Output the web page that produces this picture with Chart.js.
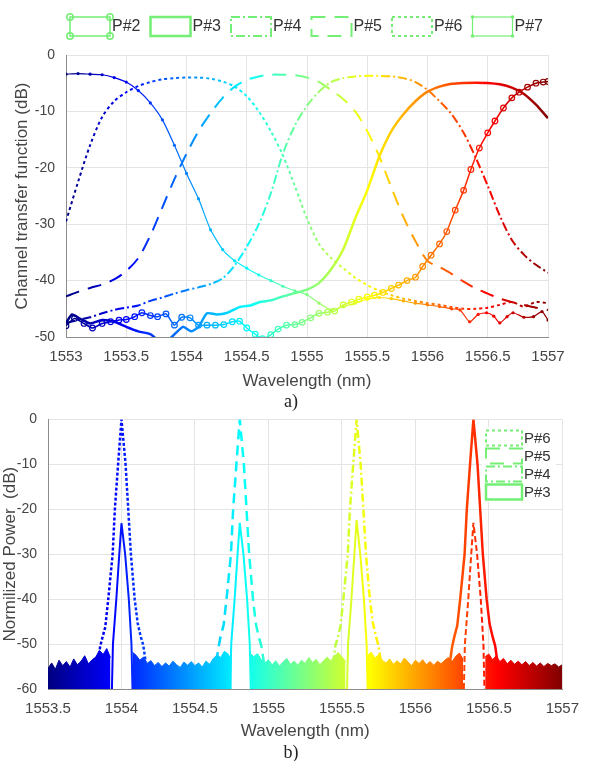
<!DOCTYPE html>
<html>
<head>
<meta charset="utf-8">
<script src="https://cdn.jsdelivr.net/npm/chart.js@4.4.0/dist/chart.umd.min.js"></script>
<style>
  body { margin: 0; background: #fff; }
  #wrap { position: relative; width: 590px; height: 761px; }
  canvas { position: absolute; left: 0; }
  .cap { position: absolute; left: 0; width: 582px; text-align: center; font: 18px "Liberation Serif", "Times New Roman", serif; color: #222; line-height: 20px; }
</style>
</head>
<body>
<div id="wrap">
  <canvas id="chartA" width="590" height="395" style="top:0"></canvas>
  <canvas id="chartB" width="590" height="361" style="top:400px"></canvas>
  <div class="cap" style="top:391px">a)</div>
  <div class="cap" style="top:742px">b)</div>
</div>
<script>
// ---- a) channel transfer functions ----
const topXTicks = [1553, 1553.5, 1554, 1554.5, 1555, 1555.5, 1556, 1556.5, 1557]
const topYTicks = [0, -10, -20, -30, -40, -50]
const topNames = ['P#2', 'P#3', 'P#4', 'P#5', 'P#6', 'P#7']

// regular 0.1 nm grid used by the smooth curves
const grid01 = [1553.0, 1553.1, 1553.2, 1553.3, 1553.4, 1553.5, 1553.6, 1553.7, 1553.8, 1553.9,
  1554.0, 1554.1, 1554.2, 1554.3, 1554.4, 1554.5, 1554.6, 1554.7, 1554.8, 1554.9,
  1555.0, 1555.1, 1555.2, 1555.3, 1555.4, 1555.5, 1555.6, 1555.7, 1555.8, 1555.9,
  1556.0, 1556.1, 1556.2, 1556.3, 1556.4, 1556.5, 1556.6, 1556.7, 1556.8, 1556.9, 1557.0]

// P#7 (thin, small dots)
const p7x = [1553.0, 1553.1, 1553.2, 1553.3, 1553.4, 1553.5, 1553.6, 1553.7, 1553.8, 1553.9,
  1554.0, 1554.1, 1554.2, 1554.3, 1554.4, 1554.5, 1554.6, 1554.7, 1554.8, 1554.9,
  1555.0, 1555.1, 1555.2, 1555.3, 1555.4, 1555.5, 1555.6, 1555.7, 1555.8, 1555.9,
  1556.0, 1556.1, 1556.2, 1556.27, 1556.35, 1556.42, 1556.49, 1556.55, 1556.6, 1556.66,
  1556.71, 1556.8, 1556.88, 1556.95, 1557.0]
const p7y = [-3.4, -3.3, -3.4, -3.5, -4.0, -4.8, -6.3, -8.5, -11.5, -16.0,
  -21.0, -25.5, -31.0, -34.5, -36.5, -37.8, -39.0, -40.0, -41.0, -41.8,
  -42.5, -44.0, -45.2, -44.6, -44.0, -43.3, -43.0, -43.2, -43.6, -44.0,
  -44.3, -44.6, -45.0, -45.2, -47.3, -46.0, -45.7, -46.3, -47.5, -46.4,
  -45.7, -46.5, -46.4, -45.5, -47.0]

// P#6 (dotted), peak near 1554
const p6y = [-29.5, -22.5, -16.0, -11.0, -8.2, -6.6, -5.5, -4.8, -4.3, -4.1,
  -4.0, -4.0, -4.2, -4.7, -5.6, -7.3, -10.0, -13.5, -17.8, -23.3,
  -29.0, -33.5, -36.0, -37.8, -39.5, -40.8, -41.8, -42.6, -43.2, -43.6,
  -44.0, -44.3, -44.7, -45.0, -45.0, -44.8, -44.3, -43.8, -44.6, -43.8, -44.0]

// P#5 (long dash), peak near 1554.8
const p5y = [-42.8, -42.0, -41.3, -40.7, -39.8, -38.3, -36.0, -32.0, -27.0, -22.0,
  -17.5, -13.5, -10.3, -7.6, -5.6, -4.4, -3.8, -3.5, -3.5, -3.6,
  -4.0, -4.8, -6.2, -7.8, -10.0, -13.5, -18.0, -23.5, -28.7, -33.0,
  -36.5, -37.6, -38.8, -40.2, -41.4, -42.3, -43.2, -43.8, -44.3, -44.8, -45.2]

// P#4 (dash-dot), peak near 1555.55
const p4y = [-47.5, -47.0, -46.5, -45.8, -45.2, -44.8, -44.4, -43.6, -43.0, -42.3,
  -41.7, -41.2, -40.6, -39.6, -37.3, -34.0, -30.0, -24.5, -17.5, -12.5,
  -9.0, -6.5, -4.8, -4.1, -3.8, -3.7, -3.7, -3.8, -4.1, -4.8,
  -6.2, -8.2, -10.5, -13.8, -18.2, -23.2, -28.5, -32.8, -35.4, -37.2, -38.6]

// P#3 (solid), peak near 1556.4
const p3x = [1553.0, 1553.05, 1553.12, 1553.2, 1553.3, 1553.4, 1553.5, 1553.6, 1553.7, 1553.77,
  1553.86, 1553.97, 1554.04, 1554.1, 1554.17, 1554.25, 1554.34, 1554.44, 1554.53, 1554.61,
  1554.7, 1554.8, 1554.9, 1555.0, 1555.1, 1555.2, 1555.3, 1555.4, 1555.5, 1555.6,
  1555.7, 1555.8, 1555.9, 1556.0, 1556.1, 1556.2, 1556.3, 1556.4, 1556.5, 1556.6,
  1556.7, 1556.8, 1556.9, 1557.0]
const p3y = [-47.5, -46.0, -46.8, -47.6, -47.0, -47.3, -48.2, -49.0, -49.5, -50.6,
  -50.3, -48.2, -49.0, -48.2, -45.8, -46.0, -45.7, -44.7, -44.4, -43.8,
  -43.5, -42.8, -42.2, -41.6, -40.4, -38.0, -34.5, -29.0, -24.0, -18.0,
  -13.5, -10.5, -8.2, -6.5, -5.6, -5.1, -4.95, -4.9, -4.95, -5.2,
  -5.8, -6.9, -8.8, -11.2]

// P#2 (circles), rising at the red end
const p2x = [1553.0, 1553.07, 1553.15, 1553.22, 1553.3, 1553.37, 1553.44, 1553.5, 1553.57, 1553.63,
  1553.7, 1553.76, 1553.83, 1553.9, 1553.96, 1554.03, 1554.1, 1554.17, 1554.24, 1554.31,
  1554.38, 1554.44, 1554.5, 1554.57, 1554.63, 1554.7, 1554.76, 1554.83, 1554.9, 1554.96,
  1555.03, 1555.1, 1555.17, 1555.23, 1555.3, 1555.37, 1555.43, 1555.5, 1555.56, 1555.63,
  1555.7, 1555.76, 1555.83, 1555.9, 1555.96, 1556.03, 1556.1, 1556.16, 1556.23, 1556.3,
  1556.36, 1556.43, 1556.5, 1556.56, 1556.63, 1556.7, 1556.76, 1556.83, 1556.9, 1556.96, 1557.0]
const p2y = [-48.0, -46.7, -47.6, -48.4, -47.6, -47.3, -47.0, -46.9, -46.4, -45.7,
  -46.2, -46.4, -45.9, -47.9, -46.5, -46.6, -47.9, -47.9, -47.9, -47.8,
  -47.3, -47.2, -48.4, -49.5, -50.3, -49.6, -48.6, -47.9, -47.8, -47.4,
  -46.6, -45.8, -45.6, -45.4, -44.3, -43.8, -43.3, -42.9, -42.6, -42.1,
  -41.4, -40.8, -40.0, -39.4, -37.5, -35.5, -33.5, -31.3, -27.5, -24.0,
  -20.3, -16.5, -13.8, -11.7, -9.4, -7.6, -6.6, -5.7, -5.0, -4.8, -4.7]

// ---- b) normalized spectra ----
const botXTicks = [1553.5, 1554, 1554.5, 1555, 1555.5, 1556, 1556.5, 1557]
const botYTicks = [0, -10, -20, -30, -40, -50, -60]
const botNames = ['P#6', 'P#5', 'P#4', 'P#3']

const floorX = [1553.5, 1553.525, 1553.55, 1553.575,
  1553.6, 1553.625, 1553.65, 1553.675,
  1553.7, 1553.725, 1553.75, 1553.775,
  1553.8, 1553.825, 1553.85, 1553.875,
  1553.9, 1553.925, 1553.95, 1553.975,
  1554.0, 1554.025, 1554.05, 1554.075,
  1554.1, 1554.125, 1554.15, 1554.175,
  1554.2, 1554.225, 1554.25, 1554.275,
  1554.3, 1554.325, 1554.35, 1554.375,
  1554.4, 1554.425, 1554.45, 1554.475,
  1554.5, 1554.525, 1554.55, 1554.575,
  1554.6, 1554.625, 1554.65, 1554.675,
  1554.7, 1554.725, 1554.75, 1554.775,
  1554.8, 1554.825, 1554.85, 1554.875,
  1554.9, 1554.925, 1554.95, 1554.975,
  1555.0, 1555.025, 1555.05, 1555.075,
  1555.1, 1555.125, 1555.15, 1555.175,
  1555.2, 1555.225, 1555.25, 1555.275,
  1555.3, 1555.325, 1555.35, 1555.375,
  1555.4, 1555.425, 1555.45, 1555.475,
  1555.5, 1555.525, 1555.55, 1555.575,
  1555.6, 1555.625, 1555.65, 1555.675,
  1555.7, 1555.725, 1555.75, 1555.775,
  1555.8, 1555.825, 1555.85, 1555.875,
  1555.9, 1555.925, 1555.95, 1555.975,
  1556.0, 1556.025, 1556.05, 1556.075,
  1556.1, 1556.125, 1556.15, 1556.175,
  1556.2, 1556.225, 1556.25, 1556.275,
  1556.3, 1556.325, 1556.35, 1556.375,
  1556.4, 1556.425, 1556.45, 1556.475,
  1556.5, 1556.525, 1556.55, 1556.575,
  1556.6, 1556.625, 1556.65, 1556.675,
  1556.7, 1556.725, 1556.75, 1556.775,
  1556.8, 1556.825, 1556.85, 1556.875,
  1556.9, 1556.925, 1556.95, 1556.975,
  1557.0]
const floorY = [-55.4, -54.2, -55.6, -53.6,
  -54.8, -53.9, -55.1, -53.3,
  -54.6, -53.8, -52.6, -54.4,
  -53.5, -52.9, -51.4, -52.3,
  -51.0, -53.0, null, null,
  null, null, null, -51.8,
  -52.5, -53.6, -52.9, -54.3,
  -53.7, -54.8, -54.1, -55.0,
  -54.2, -54.9, -53.8, -54.6,
  -55.2, -54.0, -54.7, -53.9,
  -54.8, -54.2, -55.1, -53.8,
  -54.5, -53.2, -52.4, -53.0,
  -51.6, -52.2, -53.6, null,
  null, null, null, -52.0,
  -52.8, -52.1, -53.4, -54.2,
  -53.5, -54.6, -53.7, -54.9,
  -54.0, -53.2, -54.5, -53.8,
  -54.7, -53.6, -54.3, -53.0,
  -54.1, -53.4, -54.6, -53.7,
  -52.9, -53.8, -52.6, -51.9,
  -52.8, -53.9, null, null,
  null, null, null, -52.5,
  -51.8, -53.1, -52.4, -53.6,
  -54.2, -53.3, -54.5, -53.7,
  -54.4, -53.1, -54.0, -54.8,
  -53.6, -54.3, -53.5, -54.6,
  -53.9, -54.7, -53.8, -54.4,
  -53.6, -53.0, -53.9, -52.7,
  -52.0, -53.4, null, null,
  null, null, null, -52.8,
  -52.2, -53.5, -52.6, -53.9,
  -53.2, -54.4, -53.6, -54.5,
  -53.8, -54.6, -53.9, -54.8,
  -54.1, -54.9, -54.2, -55.0,
  -54.3, -54.8, -54.4, -55.1,
  -54.6]

// tall peaks (one per channel) and the small -23 dB peaks under them
const tall1x = [1553.84, 1553.855, 1553.87, 1553.89, 1553.91, 1553.925, 1553.94, 1553.955, 1553.977, 1554.0, 1554.028, 1554.046, 1554.064, 1554.09, 1554.11, 1554.13, 1554.148, 1554.165]
const tall1y = [-54.5, -50.5, -48.6, -46.2, -40, -35, -30, -20, -10, 0, -10, -20, -30, -40, -45.3, -48.2, -50.2, -54]
const tall2x = [1554.645, 1554.66, 1554.675, 1554.695, 1554.715, 1554.73, 1554.745, 1554.76, 1554.782, 1554.805, 1554.833, 1554.851, 1554.869, 1554.895, 1554.915, 1554.935, 1554.953, 1554.97]
const tall2y = [-54, -50.8, -48.2, -45.8, -40, -35, -30, -20, -10, 0, -10, -20, -30, -40, -45.6, -48.4, -50.6, -54.2]
const tall3x = [1555.44, 1555.455, 1555.47, 1555.49, 1555.51, 1555.525, 1555.54, 1555.555, 1555.577, 1555.6, 1555.628, 1555.646, 1555.664, 1555.69, 1555.71, 1555.73, 1555.748, 1555.765]
const tall3y = [-54.3, -50.4, -48.8, -46.1, -40, -35, -30, -20, -10, 0, -10, -20, -30, -40, -45.2, -48.0, -50.3, -53.8]
const tall4x = [1556.235, 1556.25, 1556.265, 1556.285, 1556.305, 1556.32, 1556.335, 1556.35, 1556.372, 1556.395, 1556.423, 1556.441, 1556.459, 1556.485, 1556.505, 1556.525, 1556.543, 1556.56]
const tall4y = [-54.1, -50.6, -48.4, -45.9, -40, -35, -30, -20, -10, 0, -10, -20, -30, -40, -45.5, -48.3, -50.4, -54.3]

const small1x = [1553.935, 1553.942, 1553.965, 1553.985, 1554.0, 1554.025, 1554.05, 1554.068, 1554.075]
const small2x = [1554.74, 1554.747, 1554.77, 1554.79, 1554.805, 1554.83, 1554.855, 1554.873, 1554.88]
const small3x = [1555.535, 1555.542, 1555.565, 1555.585, 1555.6, 1555.625, 1555.65, 1555.668, 1555.675]
const small4x = [1556.33, 1556.337, 1556.36, 1556.38, 1556.395, 1556.42, 1556.445, 1556.463, 1556.47]
const small1y = [-60, -50, -40, -30, -23.1, -30, -40, -50, -60]
const small2y = [-60, -50, -40, -30, -23.0, -30, -40, -50, -60]
const small3y = [-60, -50, -40, -30, -22.4, -30, -40, -50, -60]
const small4y = [-60, -50, -40, -30, -23.0, -30, -40, -50, -60]

// ---- styling ----
const FONT = '"Liberation Sans", Arial, sans-serif'
const TXT = '#454545'
const GRID = '#e4e4e4'
const AXIS = '#8c8c8c'
const LEG = '#74ee74'

const lineStyles = {
  'P#2': { dash: [], width: 1.5 },
  'P#3': { dash: [], width: 2.5 },
  'P#4': { dash: [9, 3, 2, 3], width: 2 },
  'P#5': { dash: [14, 9], width: 2 },
  'P#6': { dash: [3, 3], width: 2 },
  'P#7': { dash: [], width: 1.2 }
}

function jet(t) {
  t = Math.min(1, Math.max(0, t))
  const c = v => Math.round(255 * Math.min(1, Math.max(0, v)))
  return 'rgb(' + c(1.5 - Math.abs(4 * t - 3)) + ',' + c(1.5 - Math.abs(4 * t - 2)) + ',' + c(1.5 - Math.abs(4 * t - 1)) + ')'
}

function jetGradient(chart) {
  const a = chart.chartArea
  if (!a) return 'rgb(0,0,128)'
  const g = chart.ctx.createLinearGradient(a.left, 0, a.right, 0)
  ;[0, 1 / 8, 3 / 8, 5 / 8, 7 / 8, 1].forEach(t => g.addColorStop(t, jet(t)))
  return g
}

function pts(xs, ys) {
  return xs.map((x, i) => ({ x: x, y: ys[i] }))
}

function tickList(arr) {
  return s => { s.ticks = arr.map(v => ({ value: v })) }
}

function lineSet(name, xs, ys, extra) {
  const st = lineStyles[name]
  return Object.assign({
    label: name,
    data: pts(xs, ys),
    borderColor: ctx => jetGradient(ctx.chart),
    borderWidth: st.width,
    borderDash: st.dash,
    pointRadius: 0,
    tension: 0.3,
    fill: false
  }, extra || {})
}

function drawBox(c, name, x, y, w, h) {
  const st = lineStyles[name]
  c.save()
  c.strokeStyle = LEG
  c.fillStyle = LEG
  c.lineWidth = st.width
  c.setLineDash(st.dash)
  c.strokeRect(x, y, w, h)
  c.setLineDash([])
  if (name === 'P#2' || name === 'P#7') {
    const r = name === 'P#2' ? 3.2 : 1.8
    ;[[x, y], [x + w, y], [x, y + h], [x + w, y + h]].forEach(p => {
      c.beginPath()
      c.arc(p[0], p[1], r, 0, Math.PI * 2)
      if (name === 'P#2') c.stroke(); else c.fill()
    })
  }
  c.restore()
}

const topLegend = {
  id: 'topLegend',
  afterDraw(chart) {
    const c = chart.ctx
    topNames.forEach((name, i) => {
      const x = 70 + i * 80.5
      drawBox(c, name, x, 17, 40, 19)
      c.save()
      c.fillStyle = '#333'
      c.font = '16px ' + FONT
      c.textBaseline = 'middle'
      c.fillText(name, x + 42, 27)
      c.restore()
    })
  }
}

const botLegend = {
  id: 'botLegend',
  afterDraw(chart) {
    const c = chart.ctx
    c.save()
    c.fillStyle = '#fff'
    c.fillRect(482, 27, 74, 75)
    c.restore()
    botNames.forEach((name, i) => {
      const yc = 38 + i * 18
      drawBox(c, name, 486, yc - 7.5, 36, 15)
      c.save()
      c.fillStyle = '#333'
      c.font = '15px ' + FONT
      c.textBaseline = 'middle'
      c.fillText(name, 524, yc + 1)
      c.restore()
    })
  }
}

function axes(xmin, xmax, xt, ymin, ymax, yt, ytitle, yTitlePad, yWidth, xHeight, xTitlePad) {
  return {
    x: {
      type: 'linear', min: xmin, max: xmax,
      afterBuildTicks: tickList(xt),
      afterFit: s => { s.height = xHeight },
      ticks: { callback: v => String(v), color: TXT, font: { family: FONT, size: 15 }, padding: 11, maxRotation: 0, autoSkip: false },
      grid: { color: GRID, drawTicks: false },
      border: { color: AXIS },
      title: { display: true, text: 'Wavelength (nm)', color: TXT, font: { family: FONT, size: 17 }, padding: { top: 0, bottom: xTitlePad } }
    },
    y: {
      type: 'linear', min: ymin, max: ymax,
      afterBuildTicks: tickList(yt),
      afterFit: s => { s.width = yWidth },
      ticks: { callback: v => String(v), color: TXT, font: { family: FONT, size: 14 }, padding: 11 },
      grid: { color: GRID, drawTicks: false },
      border: { color: AXIS },
      title: { display: true, text: ytitle, color: TXT, font: { family: FONT, size: 17 }, padding: { top: yTitlePad, bottom: 0 } }
    }
  }
}

const commonOpts = {
  responsive: false,
  animation: false,
  devicePixelRatio: 1,
  plugins: { legend: { display: false }, tooltip: { enabled: false } }
}

new Chart(document.getElementById('chartA'), {
  type: 'line',
  data: {
    datasets: [
      lineSet('P#2', p2x, p2y, {
        tension: 0.2, pointRadius: 2.8, pointBorderWidth: 1.2,
        pointBackgroundColor: 'rgba(0,0,0,0)',
        pointBorderColor: ctx => ctx.raw ? jet((ctx.raw.x - 1553) / 4) : 'rgb(0,0,128)'
      }),
      lineSet('P#7', p7x, p7y, {
        tension: 0.2, pointRadius: 1.6, pointBorderWidth: 0,
        pointBackgroundColor: ctx => ctx.raw ? jet((ctx.raw.x - 1553) / 4) : 'rgb(0,0,128)'
      }),
      lineSet('P#3', p3x, p3y, { tension: 0.2 }),
      lineSet('P#4', grid01, p4y),
      lineSet('P#5', grid01, p5y),
      lineSet('P#6', grid01, p6y)
    ]
  },
  options: Object.assign({}, commonOpts, {
    layout: { padding: { top: 55, right: 42, bottom: 0, left: 0 } },
    scales: axes(1553, 1557, topXTicks, -50, 0, topYTicks, 'Channel transfer function (dB)', 12, 66, 58, 3)
  }),
  plugins: [topLegend]
})

new Chart(document.getElementById('chartB'), {
  type: 'line',
  data: {
    datasets: [
      lineSet('P#6', tall1x, tall1y, { tension: 0, borderWidth: 2.5, borderDash: [3, 2] }),
      lineSet('P#5', tall2x, tall2y, { tension: 0, borderWidth: 2.5, borderDash: [10, 6] }),
      lineSet('P#4', tall3x, tall3y, { tension: 0, borderWidth: 2.5, borderDash: [8, 3, 2, 3] }),
      lineSet('P#3', tall4x, tall4y, { tension: 0, borderWidth: 2.5 }),
      lineSet('P#3', small1x, small1y, { tension: 0, borderWidth: 2 }),
      lineSet('P#3', small2x, small2y, { tension: 0, borderWidth: 2 }),
      lineSet('P#3', small3x, small3y, { tension: 0, borderWidth: 2 }),
      lineSet('P#3', small4x, small4y, { tension: 0, borderWidth: 2, borderDash: [6, 3] }),
      {
        label: 'floor',
        data: pts(floorX, floorY),
        borderColor: ctx => jetGradient(ctx.chart),
        backgroundColor: ctx => jetGradient(ctx.chart),
        borderWidth: 1,
        pointRadius: 0,
        tension: 0,
        spanGaps: false,
        fill: 'start',
        order: 10
      }
    ]
  },
  options: Object.assign({}, commonOpts, {
    layout: { padding: { top: 19, right: 27, bottom: 17, left: 0 } },
    scales: axes(1553.5, 1557, botXTicks, -60, 0, botYTicks, 'Normilized Power  (dB)', 0, 48, 55, 2)
  }),
  plugins: [botLegend]
})
</script>
</body>
</html>
